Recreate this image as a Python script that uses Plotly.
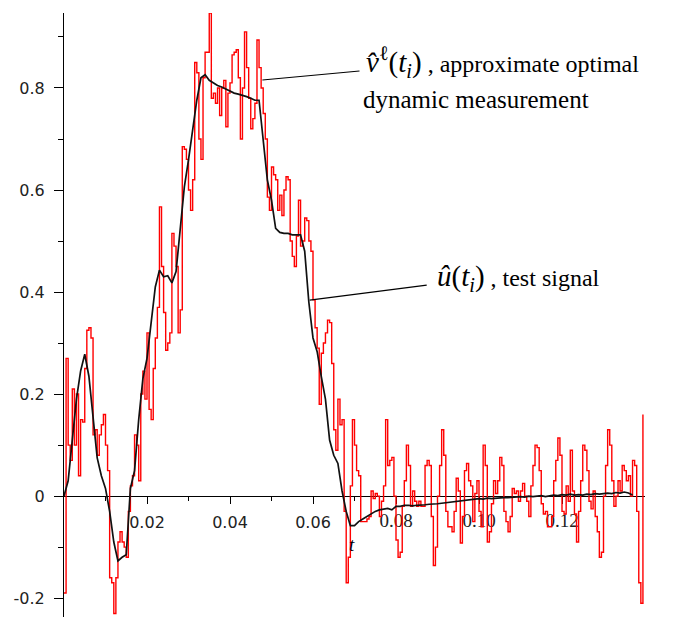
import numpy as np
import plotly.graph_objects as go

# ---- data ----
DT_RED = 0.0005
red_values = [
    -0.19, 0.27, 0.10, 0.07, 0.21, 0.10, 0.20, 0.04, 0.15, 0.145,
    0.25, 0.325, 0.33, 0.31, 0.12, 0.13, 0.08, 0.12, 0.14, 0.16,
    0.10, 0.05, -0.16, -0.17, -0.23, -0.16, -0.09, -0.07, -0.09, -0.10,
    -0.12, -0.03, 0.02, 0.04, 0.12, 0.10, 0.03, 0.20, 0.245, 0.19,
    0.32, 0.17, 0.15, 0.25, 0.31,
    0.37, 0.567, 0.45, 0.36, 0.286, 0.30, 0.32, 0.515, 0.49, 0.45,
    0.32, 0.365, 0.685, 0.68, 0.66, 0.60, 0.56, 0.62, 0.85, 0.83,
    0.70, 0.66, 0.82, 0.87, 0.87, 0.947, 0.78, 0.79, 0.77, 0.80,
    0.746, 0.80, 0.815, 0.724, 0.79, 0.81, 0.865, 0.87, 0.875, 0.82,
    0.70, 0.80, 0.91, 0.84, 0.78, 0.72, 0.74, 0.77, 0.894, 0.84,
    0.80, 0.75, 0.70, 0.586,
    0.56, 0.645, 0.63, 0.62, 0.56, 0.59, 0.55, 0.60, 0.626, 0.62,
    0.50, 0.47, 0.45, 0.51, 0.58, 0.49, 0.50, 0.545, 0.54, 0.50,
    0.48, 0.385, 0.33, 0.29, 0.18, 0.28, 0.30, 0.32, 0.345, 0.34,
    0.26, 0.13, 0.09, 0.19, 0.14, 0.15, -0.03, -0.17, -0.12, 0.02,
    0.15, 0.10, 0.05,
    0.04, -0.05, -0.05, -0.05, -0.045, -0.04, 0.01, -0.005, 0.005, 0.0,
    -0.04, -0.01, 0.02, 0.15, 0.06, 0.07, 0.076, 0.0, -0.086, -0.12,
    -0.11, -0.02, 0.03, 0.10, 0.06, -0.02, 0.01, -0.01, -0.02, -0.01,
    -0.02, -0.02, 0.06, 0.07, 0.06, -0.04, -0.136, -0.10, 0.0, 0.06,
    0.13, 0.08, -0.03, -0.06, -0.06, -0.07, -0.03, 0.035, 0.01, -0.092,
    -0.04, 0.05, 0.064, 0.03, 0.02, -0.05, 0.005, 0.03, -0.03, -0.06,
    0.10, 0.06, -0.09, -0.07, -0.015, 0.03, 0.005, 0.03, 0.076, 0.06,
    -0.03, -0.05, -0.07, -0.04, 0.015, 0.005, 0.01, -0.01, 0.01, 0.025,
    0.0, -0.01, -0.04, 0.02, 0.06, 0.10, 0.095, 0.05, -0.015, -0.035,
    -0.03, -0.06, -0.06, -0.04, 0.03, 0.07, 0.114, 0.08, -0.03, -0.035,
    0.02, -0.01, 0.09, 0.01, -0.035, -0.09, -0.03, 0.03, 0.10, 0.09,
    0.05, -0.01, -0.025, 0.01, -0.04, -0.07, -0.12, -0.11, 0.0, 0.06,
    0.13, 0.10, 0.03, -0.02, 0.0, 0.03, 0.01, 0.06, 0.05, 0.03,
    0.04, 0.0, 0.07, 0.06, -0.03, -0.17, -0.21, 0.16,
]

DT_BLACK = 0.001
black_values = [
    0.000, 0.03, 0.11, 0.19, 0.245, 0.278, 0.235, 0.15, 0.075, 0.04,
    0.015, -0.03, -0.09, -0.127, -0.12, -0.115, 0.015, 0.05, 0.15, 0.23,
    0.27, 0.34, 0.41, 0.443, 0.43, 0.432, 0.418, 0.44, 0.527, 0.606,
    0.659, 0.72, 0.776, 0.82, 0.826, 0.815, 0.81, 0.805, 0.802, 0.798,
    0.795, 0.79, 0.788, 0.786, 0.783, 0.78, 0.776, 0.776, 0.70, 0.62,
    0.58, 0.525, 0.517, 0.515, 0.515, 0.512, 0.512, 0.512, 0.48, 0.38,
    0.31, 0.283, 0.234, 0.19, 0.11, 0.08, 0.064, 0.01, -0.03, -0.058,
    -0.058, -0.05, -0.045, -0.04, -0.035, -0.03, -0.027, -0.025, -0.024, -0.027,
    -0.02, -0.02, -0.018, -0.018, -0.019, -0.018, -0.018, -0.017, -0.016, -0.016,
    -0.015, -0.014, -0.013, -0.012, -0.011, -0.011, -0.01, -0.008, -0.008, -0.006,
    -0.005, -0.006, -0.004, -0.005, -0.004, -0.004, -0.003, -0.003, -0.002, -0.002,
    -0.001, -0.002, 0.0, -0.001, 0.0, 0.001, -0.001, 0.0, 0.002, 0.001,
    0.003, 0.002, 0.004, 0.002, 0.003, 0.002, 0.004, 0.003, 0.005, 0.004,
    0.005, 0.006, 0.005, 0.007, 0.006, 0.008, 0.006, 0.002,
]

x_sans_vals = [0.02, 0.04, 0.06]
x_sans_text = ["0.02", "0.04", "0.06"]
x_serif_vals = [0.08, 0.10, 0.12]
x_serif_text = ["0.08", "0.10", "0.12"]
x_minor_vals = [0.01, 0.03, 0.05, 0.07, 0.09, 0.11, 0.13]
y_major_vals = [-0.2, 0.0, 0.2, 0.4, 0.6, 0.8]
y_major_text = ["-0.2", "0", "0.2", "0.4", "0.6", "0.8"]
y_minor_vals = [-0.1, 0.1, 0.3, 0.5, 0.7, 0.9]

X_RANGE = [0.0, 0.14]
Y_RANGE = [-0.237, 0.947]

t_red = np.arange(len(red_values)) * DT_RED
t_black = np.arange(len(black_values)) * DT_BLACK

fig = go.Figure()
fig.add_trace(go.Scatter(x=t_red, y=red_values, mode="lines",
                         line=dict(color="#ff0000", width=1.4, shape="hv"),
                         showlegend=False, hoverinfo="skip"))
fig.add_trace(go.Scatter(x=t_black, y=black_values, mode="lines",
                         line=dict(color="#111111", width=1.7),
                         showlegend=False, hoverinfo="skip"))
# invisible trace so the second (serif-labelled) x axis is drawn
fig.add_trace(go.Scatter(x=[X_RANGE[0]], y=[0], mode="markers", xaxis="x2",
                         marker=dict(opacity=0, size=1),
                         showlegend=False, hoverinfo="skip"))

SERIF = "Liberation Serif, Times New Roman, serif"
y0_frac = (0 - Y_RANGE[0]) / (Y_RANGE[1] - Y_RANGE[0])

fig.update_layout(
    width=678, height=617,
    margin=dict(l=64, r=33, t=13, b=0),
    paper_bgcolor="white", plot_bgcolor="white",
    xaxis=dict(
        range=X_RANGE, showgrid=False, zeroline=False,
        showline=True, linecolor="black", linewidth=1.2,
        anchor="free", position=y0_frac,
        tickmode="array", tickvals=x_sans_vals + x_serif_vals,
        ticktext=x_sans_text + ["", "", ""],
        ticks="outside", ticklen=7, tickcolor="black", tickwidth=1,
        ticklabelstandoff=5,
        tickfont=dict(family="DejaVu Sans", size=16, color="#222"),
        minor=dict(tickmode="array", tickvals=x_minor_vals, ticks="outside",
                   ticklen=4, tickcolor="black", tickwidth=1, showgrid=False),
        layer="below traces",
    ),
    xaxis2=dict(
        range=X_RANGE, overlaying="x", matches="x", showgrid=False, zeroline=False,
        showline=False, anchor="free", position=y0_frac, side="bottom",
        tickmode="array", tickvals=x_serif_vals, ticktext=x_serif_text,
        ticks="", ticklabelstandoff=11,
        tickfont=dict(family="Liberation Serif", size=19, color="#222"),
        layer="below traces",
    ),
    yaxis=dict(
        range=Y_RANGE, showgrid=False, zeroline=False,
        showline=True, linecolor="black", linewidth=1.2,
        tickmode="array", tickvals=y_major_vals, ticktext=y_major_text,
        ticks="outside", ticklen=9, tickcolor="black", tickwidth=1,
        ticklabelstandoff=6,
        tickfont=dict(family="DejaVu Sans", size=16, color="#222"),
        minor=dict(tickmode="array", tickvals=y_minor_vals, ticks="outside",
                   ticklen=5, tickcolor="black", tickwidth=1, showgrid=False),
        layer="below traces",
    ),
)

# leader lines
fig.add_shape(type="line", xref="x", yref="y", x0=0.0478, y0=0.8157, x1=0.0712, y1=0.8333,
              line=dict(color="black", width=1.2))
fig.add_shape(type="line", xref="x", yref="y", x0=0.0592, y0=0.3843, x1=0.0874, y1=0.4137,
              line=dict(color="black", width=1.2))

MATH = '<span style="font-size:29px">'
fig.add_annotation(
    x=0.0722, y=0.851, xref="x", yref="y", xanchor="left", yanchor="middle",
    showarrow=False,
    text=MATH + "<i>v\u0302</i><sup>\u2113</sup>(<i>t</i><sub><i>i</i></sub>)</span> , approximate optimal",
    font=dict(family=SERIF, size=24, color="black"),
)
fig.add_annotation(
    x=0.0716, y=0.777, xref="x", yref="y", xanchor="left", yanchor="middle",
    showarrow=False, text="dynamic measurement",
    font=dict(family=SERIF, size=25, color="black"),
)
fig.add_annotation(
    x=0.0893, y=0.427, xref="x", yref="y", xanchor="left", yanchor="middle",
    showarrow=False,
    text=MATH + "<i>\u00fb</i>(<i>t</i><sub><i>i</i></sub>)</span> , test signal",
    font=dict(family=SERIF, size=24, color="black"),
)
fig.add_annotation(
    x=0.0695, y=-0.094, xref="x", yref="y", xanchor="center", yanchor="middle",
    showarrow=False, text="<i>t</i>",
    font=dict(family=SERIF, size=19, color="black"),
)

fig.write_html("out.html", post_script="document.body.style.margin='0';",
               config={"displayModeBar": False})
